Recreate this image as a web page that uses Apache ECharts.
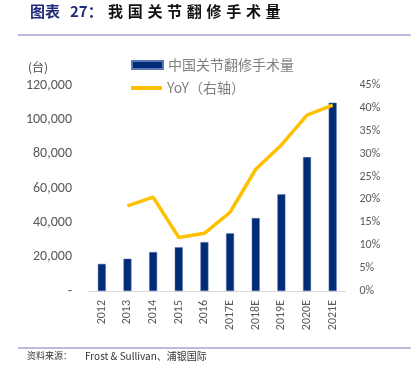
<!DOCTYPE html>
<html><head><meta charset="utf-8">
<script src="https://cdn.jsdelivr.net/npm/echarts@6/dist/echarts.min.js"></script>
<style>html,body{margin:0;padding:0;background:#fff}#c{width:411px;height:368px}</style>
</head><body><div id="c"></div>
<script>
const categories = ['2012','2013','2014','2015','2016','2017E','2018E','2019E','2020E','2021E'];
const volumes = [15800, 18800, 22700, 25500, 28500, 33600, 42500, 56300, 78000, 109700];
const yoy = [null, 18.6, 20.5, 11.7, 12.6, 17.2, 26.6, 31.9, 38.4, 40.6];
const barName = '中国关节翻修手术量';
const lineName = 'YoY（右轴）';
const titleRest = '我国关节翻修手术量';

const cjk = '"Noto Sans CJK SC", sans-serif';
const latin = 'Calibri, "Liberation Sans", "Noto Sans", sans-serif';
const chart = echarts.init(document.getElementById('c'));

const graphics = [
  {type:'text', left:30, top:4, style:{text:'图表', font:'bold 15px '+cjk, fill:'#1F2A7A'}},
  {type:'text', left:70, top:4, style:{text:'27：', font:'bold 15px '+cjk, fill:'#1F2A7A'}},
  {type:'line', shape:{x1:18,y1:35,x2:411,y2:35}, style:{stroke:'#7a78b8', lineWidth:1}},
  {type:'line', shape:{x1:18,y1:348,x2:411,y2:348}, style:{stroke:'#7a78b8', lineWidth:1}},
  {type:'text', left:27, top:351, style:{text:'资料来源：', font:'9px '+cjk, fill:'#333'}},
  {type:'text', left:85, top:351, style:{text:'Frost & Sullivan、浦银国际', font:'10px '+cjk, fill:'#333'}},
  {type:'text', left:28, top:61, style:{text:'(台)', font:'12px '+cjk, fill:'#444'}}
];
for (let i = 0; i < titleRest.length; i++) {
  graphics.push({type:'text', left:108 + i*19.7, top:4, style:{text:titleRest[i], font:'bold 15px '+cjk, fill:'#111'}});
}

chart.setOption({
  animation:false,
  grid:{left:89, right:65.5, top:85, bottom:77},
  graphic:graphics,
  legend:[
    {left:131, top:58, padding:0, itemWidth:31, itemHeight:8,
     textStyle:{fontFamily:cjk, fontSize:14, color:'#7f7f7f'},
     data:[{name:barName, icon:'rect'}]},
    {left:131, top:81, padding:0, itemWidth:31, itemHeight:4,
     textStyle:{fontFamily:cjk, fontSize:14, color:'#7f7f7f'},
     data:[{name:lineName, icon:'roundRect'}]}
  ],
  xAxis:{
    type:'category', data:categories,
    axisLine:{lineStyle:{color:'#d9d9d9', width:1}},
    axisTick:{show:false},
    axisLabel:{rotate:90, color:'#595959', fontSize:12, fontFamily:latin, margin:9}
  },
  yAxis:[
    {type:'value', min:0, max:120000, interval:20000, splitLine:{show:false},
     axisLine:{show:false}, axisTick:{show:false},
     axisLabel:{color:'#595959', fontSize:14, fontFamily:latin, margin:17,
       formatter:v => v === 0 ? '-' : v.toLocaleString('en-US')}},
    {type:'value', min:0, max:45, interval:5, splitLine:{show:false},
     axisLine:{show:false}, axisTick:{show:false},
     axisLabel:{color:'#595959', fontSize:12, fontFamily:latin, margin:14, formatter:'{value}%'}}
  ],
  series:[
    {name:barName, type:'bar', data:volumes, barWidth:8, itemStyle:{color:'#002B77', borderColor:'#5a79b5', borderWidth:0.5}},
    {name:lineName, type:'line', yAxisIndex:1, data:yoy, symbol:'none', connectNulls:false,
     lineStyle:{color:'#FFC000', width:3.5}, itemStyle:{color:'#FFC000'}}
  ]
});
</script></body></html>
